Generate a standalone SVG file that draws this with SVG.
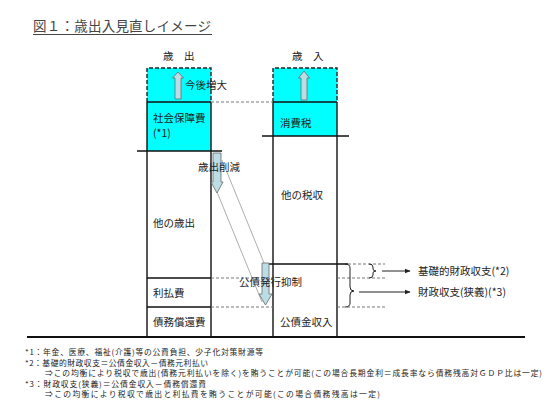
<svg xmlns="http://www.w3.org/2000/svg" width="550" height="400" viewBox="0 0 550 400">
<style>
text{font-family:"Noto Sans CJK JP","Noto Sans",sans-serif;fill:#222;}
.lbl{font-size:10.5px;}
.fn{font-size:7.8px;}
.ln{stroke:#111;stroke-width:1.4;fill:none;}
.dash{stroke:#777;stroke-width:1;stroke-dasharray:3,2;fill:none;}
.cy{fill:#00FFFF;}
.arr{fill:#BCDDE4;stroke:#6a6a6a;stroke-width:0.8;}
.thin{stroke:#999;stroke-width:0.8;fill:none;}
.br{stroke:#222;stroke-width:1;fill:none;}
</style>
<defs>
<marker id="ah" viewBox="0 0 10 10" refX="9" refY="5" markerWidth="6" markerHeight="6" orient="auto">
<path d="M0,1 L10,5 L0,9 Z" fill="#222"/>
</marker>
</defs>
<rect width="550" height="400" fill="#fff"/>

<g id="title">
<text x="33" y="31" style="font-size:13.5px;fill:#444" textLength="178" lengthAdjust="spacing">図１：歳出入見直しイメージ</text>
<line x1="33" y1="34.5" x2="212" y2="34.5" stroke="#444" stroke-width="1"/>
</g>

<g id="headers">
<text class="lbl" x="163" y="60">歳　出</text>
<text class="lbl" x="292" y="60">歳　入</text>
</g>

<g id="expenditure-column">
<rect id="future-increase-left" class="cy" x="147" y="68" width="64" height="34"/>
<path d="M147,102 L147,68 L211,68 L211,102" fill="none" stroke="#222" stroke-width="1.4" stroke-dasharray="4,2"/>
<rect id="social-security" class="cy" x="147" y="102" width="64" height="49"/>
<line class="ln" x1="147" y1="102" x2="211" y2="102"/>
<line class="ln" x1="147" y1="102" x2="147" y2="337"/>
<line class="ln" x1="211" y1="102" x2="211" y2="337"/>
<line class="ln" x1="137" y1="151" x2="222" y2="151"/>
<line class="ln" x1="147" y1="278" x2="211" y2="278"/>
<line class="ln" x1="147" y1="307" x2="211" y2="307"/>
<text class="lbl" x="153" y="122">社会保障費</text>
<text class="lbl" x="153" y="137">(*1)</text>
<text class="lbl" x="153" y="227">他の歳出</text>
<text class="lbl" x="153" y="297">利払費</text>
<text class="lbl" x="153" y="326">債務償還費</text>
</g>

<g id="revenue-column">
<rect id="future-increase-right" class="cy" x="273" y="68" width="64" height="34"/>
<path d="M273,102 L273,68 L337,68 L337,102" fill="none" stroke="#222" stroke-width="1.4" stroke-dasharray="4,2"/>
<rect id="consumption-tax" class="cy" x="273" y="102" width="64" height="34"/>
<line class="ln" x1="273" y1="102" x2="337" y2="102"/>
<line class="ln" x1="273" y1="102" x2="273" y2="337"/>
<line class="ln" x1="337" y1="102" x2="337" y2="337"/>
<line class="ln" x1="262" y1="136" x2="349" y2="136"/>
<line class="ln" x1="262" y1="264" x2="348" y2="264"/>
<text class="lbl" x="280" y="127">消費税</text>
<text class="lbl" x="281" y="199">他の税収</text>
<text class="lbl" x="280" y="326">公債金収入</text>
</g>

<g id="baseline">
<line x1="27" y1="337" x2="525" y2="337" stroke="#111" stroke-width="2"/>
</g>

<g id="connectors">
<line class="dash" x1="211" y1="102" x2="273" y2="102"/>
<line class="dash" x1="211" y1="278" x2="273" y2="278"/>
<line class="dash" x1="211" y1="307" x2="273" y2="307"/>
<line class="dash" x1="348" y1="264" x2="385" y2="264"/>
<line class="dash" x1="337" y1="278" x2="385" y2="278"/>
<line class="dash" x1="337" y1="307" x2="385" y2="307"/>
<line class="thin" x1="222" y1="160" x2="264" y2="263"/>
<line class="thin" x1="217" y1="192" x2="262" y2="302"/>
<path class="br" d="M369,264 Q373,264 373,267 L373,269 Q373,271 376,271 Q373,271 373,273 L373,275 Q373,278 369,278"/>
<path class="br" d="M345,264 Q350,264 350,268 L350,287 Q350,291 354,291 Q350,291 350,295 L350,303 Q350,307 345,307"/>
<line x1="382" y1="271" x2="410" y2="271" stroke="#222" stroke-width="1" marker-end="url(#ah)"/>
<line x1="359" y1="292" x2="410" y2="292" stroke="#222" stroke-width="1" marker-end="url(#ah)"/>
</g>

<g id="arrow-increase-left">
<path class="arr" d="M175,99 L175,78 L172.5,78 L178,72 L183.5,78 L181,78 L181,99 Z"/>
<text class="lbl" x="185" y="89">今後増大</text>
</g>
<g id="arrow-increase-right">
<path class="arr" d="M301,100 L301,78 L298.5,78 L304,71 L309.5,78 L307,78 L307,100 Z"/>
</g>
<g id="arrow-cut">
<path class="arr" d="M213,153 L221,153 L221,182 L223,182 L217,193 L211,182 L213,182 Z"/>
<text class="lbl" x="198" y="171">歳出削減</text>
</g>
<g id="arrow-bond">
<path class="arr" d="M262,263 L269,263 L269,294 L272,294 L265.5,305 L259,294 L262,294 Z"/>
<text class="lbl" x="239" y="286">公債発行抑制</text>
</g>

<g id="label-primary-balance">
<text class="lbl" x="418" y="275">基礎的財政収支(*2)</text>
</g>
<g id="label-fiscal-balance">
<text class="lbl" x="418" y="296">財政収支(狭義)(*3)</text>
</g>

<g id="footnotes">
<text class="fn" x="25" y="355" textLength="238" lengthAdjust="spacing">*1：年金、医療、福祉(介護)等の公費負担、少子化対策財源等</text>
<text class="fn" x="25" y="365.5" textLength="183" lengthAdjust="spacing">*2：基礎的財政収支＝公債金収入－債務元利払い</text>
<text class="fn" x="45" y="376" textLength="497" lengthAdjust="spacing">⇒この均衡により税収で歳出(債務元利払いを除く)を賄うことが可能(この場合長期金利＝成長率なら債務残高対ＧＤＰ比は一定)</text>
<text class="fn" x="25" y="386.5" textLength="181" lengthAdjust="spacing">*3：財政収支(狭義)＝公債金収入－債務償還費</text>
<text class="fn" x="45" y="397" textLength="335" lengthAdjust="spacing">⇒この均衡により税収で歳出と利払費を賄うことが可能(この場合債務残高は一定)</text>
</g>
</svg>
